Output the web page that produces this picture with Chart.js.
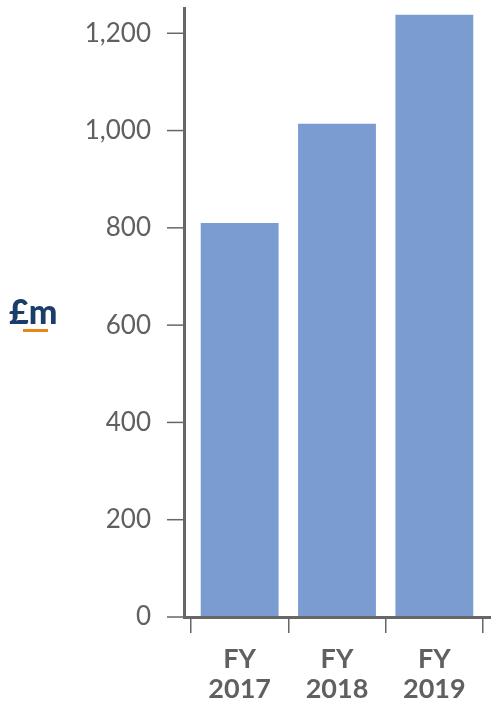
<!DOCTYPE html>
<html>
<head>
<meta charset="utf-8">
<script src="https://cdn.jsdelivr.net/npm/chart.js@4.4.1/dist/chart.umd.min.js"></script>
<style>
  html, body { margin: 0; padding: 0; background: #fff; }
  #wrap { position: relative; width: 491px; height: 704px; }
  #unit {
    position: absolute; left: 9px; top: 291px;
    font-family: Lato, "Open Sans", sans-serif; font-weight: 900; font-size: 34px;
    color: #1b3d6a; line-height: 40px;
  }
  #unit::after {
    content: ""; position: absolute; left: 14px; top: 38px;
    width: 25px; height: 3px; background: #e8861a;
  }
</style>
</head>
<body>
<div id="wrap">
  <canvas id="c" width="491" height="704"></canvas>
  <div id="unit">£m</div>
</div>
<script>
// chart values
const years = [['FY', '2017'], ['FY', '2018'], ['FY', '2019']];
const revenue = [810, 1014, 1238];
const yTicks = [0, 200, 400, 600, 800, 1000, 1200];

const axisColor = '#666666';
const labelColor = '#606060';

// draws axis lines and y tick marks outside the plot area
const axesPlugin = {
  id: 'axesPlugin',
  afterDraw(chart) {
    const { ctx, chartArea } = chart;
    const y = chart.scales.y;
    const gap = 8;
    ctx.save();
    ctx.strokeStyle = axisColor;
    // y tick marks
    ctx.lineWidth = 1.5;
    yTicks.forEach(v => {
      const py = y.getPixelForValue(v);
      ctx.beginPath();
      ctx.moveTo(chartArea.left - gap - 16, py);
      ctx.lineTo(chartArea.left - gap, py);
      ctx.stroke();
    });
    // axis lines
    ctx.lineWidth = 3;
    ctx.beginPath();
    ctx.moveTo(chartArea.left - gap + 1.5, chartArea.top);
    ctx.lineTo(chartArea.left - gap + 1.5, chartArea.bottom + 1.5);
    ctx.stroke();
    ctx.beginPath();
    ctx.moveTo(chartArea.left - gap, chartArea.bottom + 0.5);
    ctx.lineTo(chartArea.right + gap, chartArea.bottom + 0.5);
    ctx.stroke();
    ctx.restore();
  }
};

new Chart(document.getElementById('c'), {
  type: 'bar',
  data: {
    labels: years,
    datasets: [{
      data: revenue,
      backgroundColor: '#7a9cd1',
      barPercentage: 0.8,
      categoryPercentage: 1.0
    }]
  },
  options: {
    responsive: false,
    animation: false,
    layout: { padding: { top: 7, right: 8, left: 0, bottom: 0 }, autoPadding: false },
    plugins: { legend: { display: false }, tooltip: { enabled: false } },
    scales: {
      x: {
        offset: true,
        border: { display: false },
        grid: {
          offset: true,
          drawOnChartArea: false,
          tickLength: 16,
          color: axisColor,
          lineWidth: 1.5
        },
        ticks: {
          padding: 11,
          color: labelColor,
          font: { family: 'Lato, "Open Sans", sans-serif', size: 27, weight: 'bold', lineHeight: 1.12 },
          maxRotation: 0
        },
        afterFit(scale) {
          scale.height = 87;
          scale.paddingLeft = 0; scale.paddingRight = 0;
        }
      },
      y: {
        min: 0,
        max: 1254,
        border: { display: false },
        grid: { display: false, drawTicks: false },
        ticks: {
          stepSize: 200,
          includeBounds: false,
          padding: 40,
          color: labelColor,
          font: { family: 'Lato, "Open Sans", sans-serif', size: 26 },
          callback: v => v.toLocaleString('en-GB')
        },
        afterBuildTicks(scale) {
          scale.ticks = yTicks.map(v => ({ value: v }));
        },
        afterFit(scale) {
          scale.width = 191;
          scale.paddingTop = 0; scale.paddingBottom = 0;
        }
      }
    }
  },
  plugins: [axesPlugin]
});
</script>
</body>
</html>
